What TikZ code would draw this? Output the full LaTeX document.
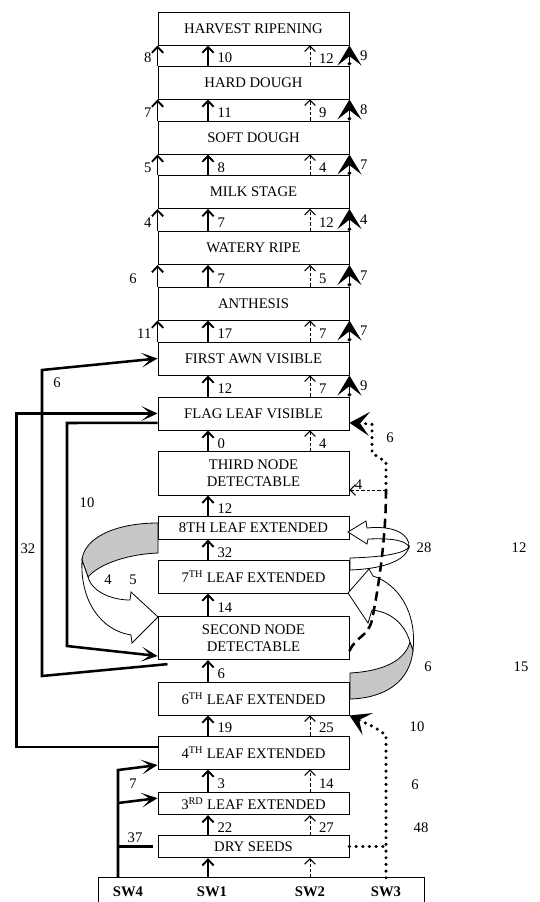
\documentclass[tikz,border=0pt]{standalone}
\usepackage{fontspec}
\setmainfont{Liberation Serif}
\usetikzlibrary{arrows.meta}

\tikzset{
  stage/.style={draw, line width=0.7pt, minimum width=143.25pt, minimum height=24.75pt,
    inner sep=0pt, align=center, font=\fontsize{11}{12.5}\selectfont},
  tall/.style={stage, minimum height=32.5pt},
  slim/.style={stage, minimum height=16.75pt},
  num/.style={inner sep=1pt, font=\fontsize{11}{12}\selectfont},
  swlbl/.style={inner sep=0pt, font=\fontsize{11}{12}\selectfont\bfseries},
  swzero/.style={line width=1.3pt, -{Straight Barb[length=4.5pt,width=8.5pt,line width=1.4pt]}},
  swone/.style={line width=1.3pt, -{Straight Barb[length=4.5pt,width=8.5pt,line width=1.4pt]}},
  swtwo/.style={line width=0.7pt, dash pattern=on 2.5pt off 1.5pt,
    -{Straight Barb[length=4pt,width=8pt,line width=0.8pt]}},
  swthree/.style={line width=0.8pt, {Circle[length=2.8pt]}-{Stealth[length=15pt,width=18pt,inset=7pt]}},
  feed/.style={line width=1.9pt},
  feedtip/.style={feed, -{Stealth[length=12pt,width=11pt,inset=6.5pt]}},
  dots/.style={line width=2.6pt, line cap=round, dash pattern=on 0pt off 5pt},
  dotstip/.style={dots, -{Stealth[length=15pt,width=18pt,inset=7pt]}},
  bigdash/.style={line width=1.9pt, dash pattern=on 7pt off 4pt},
  thindash/.style={line width=0.7pt, dash pattern=on 2.5pt off 1.5pt,
    -{Straight Barb[length=4pt,width=8pt,line width=0.8pt]}},
  band/.style={draw, line width=0.6pt, fill=white},
  shade/.style={draw, line width=0.6pt, fill=black!22}
}

\begin{document}
\begin{tikzpicture}[x=0.75pt, y=-0.75pt]
\useasboundingbox (0,0) rectangle (539,902);

% growth stages
\node[stage] (harvest) at (253.5,28.5) {HARVEST RIPENING};
\node[stage] (hard) at (253.5,82.5) {HARD DOUGH};
\node[stage] (soft) at (253.5,137.5) {SOFT DOUGH};
\node[stage] (milk) at (253.5,192) {MILK STAGE};
\node[stage] (watery) at (253.5,248) {WATERY RIPE};
\node[stage] (anthesis) at (253.5,303.5) {ANTHESIS};
\node[stage] (awn) at (253.5,358.5) {FIRST AWN VISIBLE};
\node[stage] (flag) at (253.5,413.5) {FLAG LEAF VISIBLE};
\node[tall] (third) at (253.5,473.5) {THIRD NODE\\DETECTABLE};
\node[slim] (eighth) at (253.5,528) {8TH LEAF EXTENDED};
\node[stage] (seventh) at (253.5,576.5) {7\textsuperscript{TH} LEAF EXTENDED};
\node[tall] (second) at (253.5,638) {SECOND NODE\\DETECTABLE};
\node[stage] (sixth) at (253.5,698.5) {6\textsuperscript{TH} LEAF EXTENDED};
\node[stage] (fourth) at (253.5,752.5) {4\textsuperscript{TH} LEAF EXTENDED};
\node[slim] (thirdleaf) at (253.5,803.5) {3\textsuperscript{RD} LEAF EXTENDED};
\node[slim] (dry) at (253.5,846.5) {DRY SEEDS};

% switch bar
\node[minimum width=243.75pt, minimum height=18pt, inner sep=0pt] (sw) at (261.5,890) {};
\draw[line width=0.7pt] (sw.south west) |- (sw.north east) -- (sw.south east);
\node[swlbl] (sw4) at (128,892) {SW4};
\node[swlbl] (sw1) at (212,892) {SW1};
\node[swlbl] (sw2) at (310,892) {SW2};
\node[swlbl] (sw3) at (386,892) {SW3};
\coordinate (c1) at (208,0);
\coordinate (c2) at (310,0);
\coordinate (c3) at (386,0);
\coordinate (c4) at (118,0);

% upper stages, all four switches
\foreach \lo/\up/\a/\s/\b/\c/\d in {hard/harvest/8/3pt/10/12/9, soft/hard/7/3pt/11/9/8,
    milk/soft/5/3pt/8/4/7, watery/milk/4/3pt/7/12/4, anthesis/watery/6/14pt/7/5/7,
    awn/anthesis/11/3pt/17/7/7}{
  \draw[swzero] (\lo.north west) -- node[num, left=\s, yshift=-2pt] (\lo-a) {\a} (\up.south west);
  \draw[swone] (\lo.north -| c1) -- node[num, right=5.5pt, yshift=-2pt] (\lo-b) {\b} (\up.south -| c1);
  \draw[swtwo] (\lo.north -| c2) -- node[num, right=5.5pt, yshift=-2pt] (\lo-c) {\c} (\up.south -| c2);
  \draw[swthree] (\lo.north east) -- node[num, right=6.5pt] (\lo-d) {\d} (\up.south east);
}
\draw[swone] (flag.north -| c1) -- node[num, right=5.5pt, yshift=-2pt] (flag-b) {12} (awn.south -| c1);
\draw[swtwo] (flag.north -| c2) -- node[num, right=5.5pt, yshift=-2pt] (flag-c) {7} (awn.south -| c2);
\draw[swthree] (flag.north east) -- node[num, right=6.5pt] (flag-d) {9} (awn.south east);

% lower stages, switch 1
\foreach \lo/\up/\b in {third/flag/0, eighth/third/12, seventh/eighth/32, second/seventh/14,
    sixth/second/6, fourth/sixth/19, thirdleaf/fourth/3, dry/thirdleaf/22}{
  \draw[swone] (\lo.north -| c1) -- node[num, right=5.5pt, yshift=-2pt] (\lo-b) {\b} (\up.south -| c1);
}
% lower stages, switch 2
\foreach \lo/\up/\c in {third/flag/4, fourth/sixth/25, thirdleaf/fourth/14, dry/thirdleaf/27}{
  \draw[swtwo] (\lo.north -| c2) -- node[num, right=5.5pt, yshift=-2pt] (\lo-c) {\c} (\up.south -| c2);
}
\draw[swone] (sw.north -| c1) -- (dry.south -| c1);
\draw[swtwo] (sw.north -| c2) -- (dry.south -| c2);

% twisted block arrows
\path[shade] (158,523) .. controls (115,523) and (84,538) .. (82,560) -- (88,577)
  .. controls (100,563) and (130,554) .. (158,553) -- cycle;
\path[band] (82,560) .. controls (80,600) and (100,630) .. (131,635) -- (132,643) -- (158,617)
  -- (131,592) -- (130,600) .. controls (112,600) and (92,592) .. (88,577) -- cycle;
\path[band] (350,558) .. controls (385,557) and (405,553) .. (409,547)
  .. controls (405,562) and (380,569) .. (350,570) -- cycle;
\path[band] (367,528) .. controls (395,525) and (410,535) .. (409,547)
  .. controls (406,541) and (395,538) .. (368,539) -- (367,544) -- (348,532) -- (366,521) -- cycle;
\path[shade] (350,673) .. controls (385,671) and (405,660) .. (410,642) -- (413,650)
  .. controls (410,682) and (385,698) .. (350,699) -- cycle;
\path[band] (413,650) .. controls (417,612) and (398,584) .. (373,576) -- (369,569) -- (348,593)
  -- (368,623) -- (372,610) .. controls (392,612) and (405,625) .. (410,642) -- cycle;
\node[num] (n4) at (108,580) {4};
\node[num] (n5) at (133,580) {5};
\node[num] (n28) at (424,548) {28};
\node[num] (n12) at (519,548) {12};
\node[num] (n6r) at (428,667) {6};
\node[num] (n15) at (521,667) {15};

% switch 3 feedback
\coordinate (j) at (386,490);
\draw[bigdash] ([yshift=-9.75pt]second.east) .. controls (356,636) and (368,637) .. (372,620)
  .. controls (378,590) and (386,540) .. (j);
\draw[thindash] (j) -- node[num, pos=0.75, above, yshift=-1pt] (n4r) {4} (third.east |- j);
\draw[dotstip] (j) -- (386,462) -- (372,453) -- (372,424) -- ([yshift=-7pt]flag.east);
\node[num] (n6f) at (390,438) {6};
\draw[dots] (dry.east) -- (dry.east -| c3);
\draw[dotstip] (sw.north -| c3) -- (386,735) -- (374,727) -- (sixth.south east);
\node[num] (n10r) at (417,727) {10};
\node[num] (n6s) at (415,785) {6};
\node[num] (n48) at (421,828) {48};

% switch 4 feeds
\draw[feedtip] (sw.north -| c4) -- (118,770) -- ([yshift=-9.4pt]fourth.west);
\draw[feedtip] (118,803) -- ([yshift=4pt]thirdleaf.west);
\draw[feed] (dry.west -| c4) -- ([xshift=-3.5pt]dry.west);
\node[num] (n7) at (133,784) {7};
\node[num] (n37) at (135,838) {37};
\draw[feedtip] ([yshift=4pt]fourth.west) -- ++(-141,0) |- (flag.west);
\node[num] (n32) at (28,549) {32};
\draw[feedtip] ([xshift=7.5pt,yshift=-3pt]second.south west) -- (42,676) -- (42,370) -- (awn.west);
\node[num] (n6l) at (57,383) {6};
\draw[feedtip] ([yshift=-7pt]flag.west) -- (67,423) -- (67,646) -- ([yshift=-13.5pt]second.west);
\node[num] (n10l) at (87,503) {10};
\end{tikzpicture}
\end{document}
